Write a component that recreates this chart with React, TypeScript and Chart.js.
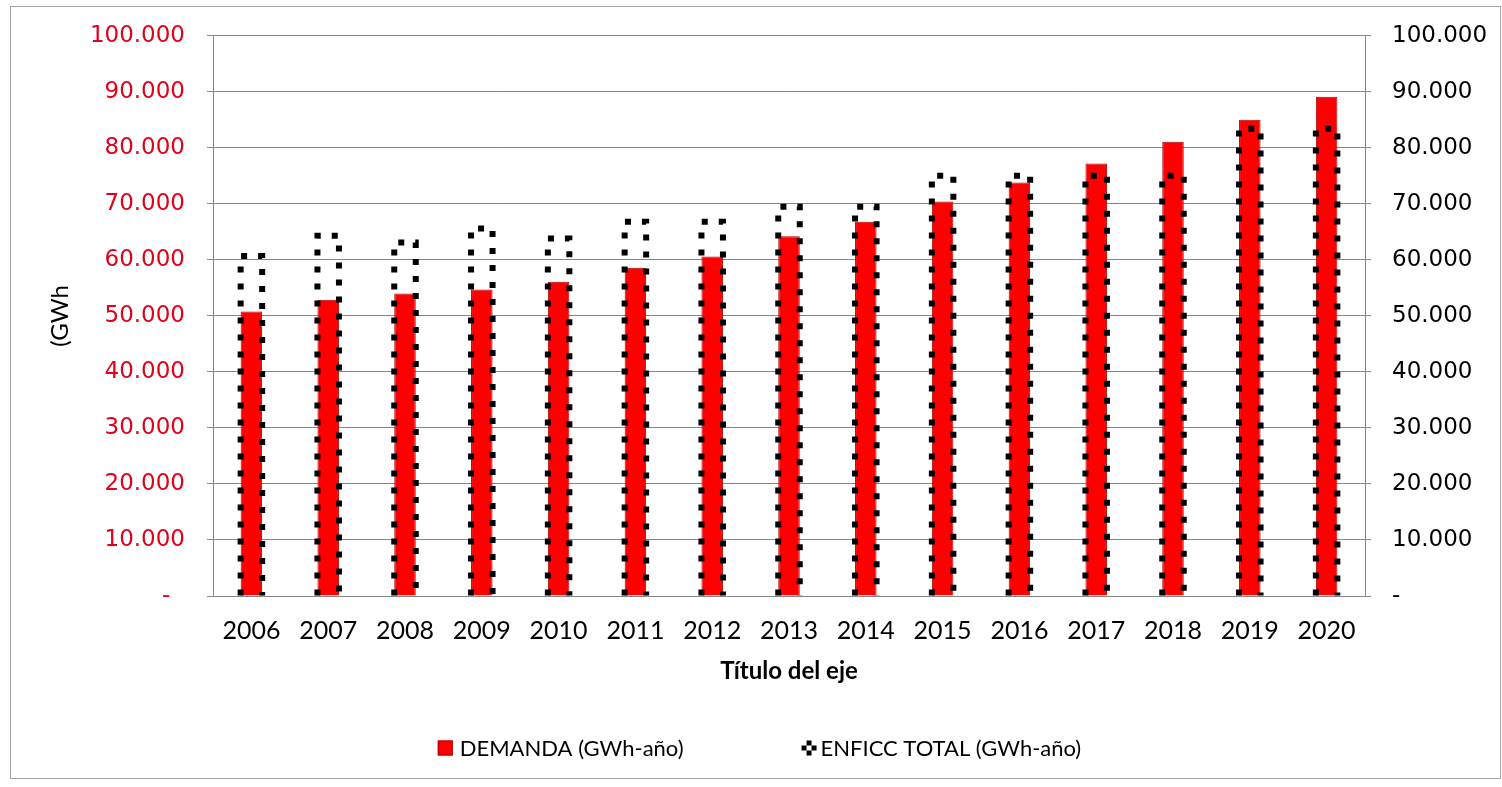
import { useEffect, useRef } from 'react';
import { Chart, registerables } from 'chart.js';

Chart.register(...registerables);

// Years on the category axis
const YEARS = ['2006', '2007', '2008', '2009', '2010', '2011', '2012', '2013', '2014', '2015', '2016', '2017', '2018', '2019', '2020'];

// Annual demand (GWh-año)
const DEMANDA = [50800, 52900, 54000, 54700, 56100, 58600, 60600, 64200, 66800, 70400, 73800, 77200, 81100, 85000, 89100];

// Total firm energy, ENFICC (GWh-año)
const ENFICC = [60700, 64300, 63100, 65600, 63800, 66800, 66800, 69500, 69500, 75000, 75000, 75000, 75000, 83400, 83400];

const SERIES_LABELS = ['DEMANDA (GWh-año)', 'ENFICC TOTAL (GWh-año)'];
const X_TITLE = 'Título del eje';
const Y_TITLE = '(GWh';
const Y_MIN = 0;
const Y_MAX = 100000;
const Y_STEP = 10000;

const RED = '#ff0000';
const TICK_RED = '#e2001a';
const GRID = '#868686';

const thousands = (v: number) => String(Math.round(v)).replace(/\B(?=(\d{3})+(?!\d))/g, '.');

// white page with a thin frame around the whole chart
const frame = {
  id: 'frame',
  beforeDraw(chart: any) {
    const { ctx, width, height } = chart;
    ctx.save();
    ctx.fillStyle = '#ffffff';
    ctx.fillRect(0, 0, width, height);
    ctx.strokeStyle = '#a6a6a6';
    ctx.lineWidth = 1;
    ctx.strokeRect(10.5, 6.5, width - 12, height - 15);
    ctx.restore();
  },
};

// square-dotted outline for the ENFICC bars
const dottedOutline = {
  id: 'dottedOutline',
  afterDatasetsDraw(chart: any) {
    const meta = chart.getDatasetMeta(1);
    const { ctx } = chart;
    ctx.save();
    ctx.strokeStyle = '#000000';
    ctx.lineWidth = 6;
    ctx.lineCap = 'butt';
    ctx.setLineDash([6, 11]);
    meta.data.forEach((bar: any) => {
      const { x, y, base, width } = bar.getProps(['x', 'y', 'base', 'width'], true);
      const l = x - width / 2;
      const r = x + width / 2;
      ctx.beginPath();
      ctx.moveTo(l, base);
      ctx.lineTo(l, y);
      ctx.lineTo(r, y);
      ctx.lineTo(r, base);
      ctx.stroke();
    });
    ctx.restore();
  },
};

// legend row under the axis title
const bottomLegend = {
  id: 'bottomLegend',
  afterDraw(chart: any) {
    const { ctx } = chart;
    const labels = chart.data.datasets.map((d: any) => d.label as string);
    ctx.save();
    ctx.font = '22px Lato';
    ctx.textBaseline = 'middle';
    ctx.textAlign = 'left';
    const box = 15;
    const gap = 7;
    const itemGap = 118;
    const widths = labels.map((t: string) => ctx.measureText(t).width);
    const total = box + gap + widths[0] + itemGap + box + gap + widths[1];
    const cy = 748;
    let x = 761 - total / 2;

    // DEMANDA swatch
    ctx.fillStyle = RED;
    ctx.fillRect(x, cy - box / 2, box, box);
    ctx.strokeStyle = '#b00000';
    ctx.lineWidth = 1;
    ctx.strokeRect(x + 0.5, cy - box / 2 + 0.5, box - 1, box - 1);
    x += box + gap;
    ctx.fillStyle = '#000';
    ctx.fillText(labels[0], x, cy + 1);
    x += widths[0] + itemGap;

    // ENFICC swatch: a plus of black cells
    const c = box / 3;
    const top = cy - box / 2;
    ctx.fillStyle = '#000';
    ctx.fillRect(x + c, top, c, c);
    ctx.fillRect(x, top + c, c, c);
    ctx.fillRect(x + 2 * c, top + c, c, c);
    ctx.fillRect(x + c, top + 2 * c, c, c);
    x += box + gap - 3;
    ctx.fillText(labels[1], x, cy + 1);
    ctx.restore();
  },
};

export default function App() {
  const ref = useRef<HTMLCanvasElement>(null);

  useEffect(() => {
    const canvas = ref.current;
    if (!canvas) return;
    const chart = new Chart(canvas, {
      type: 'bar',
      data: {
        labels: YEARS,
        datasets: [
          {
            label: SERIES_LABELS[0],
            data: DEMANDA,
            backgroundColor: RED,
            borderColor: '#b00000',
            borderWidth: 1,
            grouped: false,
            categoryPercentage: 0.28,
            barPercentage: 1,
            yAxisID: 'y',
          },
          {
            label: SERIES_LABELS[1],
            data: ENFICC,
            backgroundColor: 'rgba(0,0,0,0)',
            borderWidth: 0,
            grouped: false,
            categoryPercentage: 0.28,
            barPercentage: 1,
            yAxisID: 'y',
          },
        ],
      },
      options: {
        responsive: false,
        animation: false,
        devicePixelRatio: 1,
        layout: { padding: { left: 44, right: 10, top: 35, bottom: 91 } },
        plugins: {
          legend: { display: false },
          tooltip: { enabled: false },
        },
        scales: {
          x: {
            grid: { display: false, drawTicks: false },
            border: { display: true, color: GRID },
            ticks: {
              color: '#000',
              font: { family: 'Lato', size: 25 },
              padding: 20,
              maxRotation: 0,
              autoSkip: false,
            },
            title: {
              display: true,
              text: X_TITLE,
              color: '#000',
              font: { family: 'Lato', size: 24, weight: 'bold' },
              padding: { top: 0, bottom: 10 },
            },
            afterFit: (s: any) => {
              s.height = 100;
            },
          },
          y: {
            position: 'left',
            min: Y_MIN,
            max: Y_MAX,
            grid: { color: GRID, drawTicks: true, tickLength: 6, tickColor: GRID },
            border: { display: true, color: GRID },
            ticks: {
              stepSize: Y_STEP,
              color: TICK_RED,
              font: { family: 'DejaVu Sans', size: 23 },
              padding: 22,
              callback: (v: any) => (Number(v) === 0 ? '-  ' : thousands(Number(v))),
            },
            title: {
              display: true,
              text: Y_TITLE,
              color: '#000',
              font: { family: 'Lato', size: 24 },
              padding: { top: 2, bottom: 0 },
            },
            afterFit: (s: any) => {
              s.width = 169;
            },
          },
          y2: {
            position: 'right',
            min: Y_MIN,
            max: Y_MAX,
            grid: { drawOnChartArea: false, drawTicks: true, tickLength: 6, tickColor: GRID, color: GRID },
            border: { display: true, color: GRID },
            ticks: {
              stepSize: Y_STEP,
              color: '#000',
              font: { family: 'DejaVu Sans', size: 23 },
              padding: 21,
              callback: (v: any) => (Number(v) === 0 ? '-' : thousands(Number(v))),
            },
            afterFit: (s: any) => {
              s.width = 127;
            },
          },
        },
      },
      plugins: [frame, dottedOutline, bottomLegend],
    });
    return () => chart.destroy();
  }, []);

  return (
    <div style={{ position: 'absolute', left: 0, top: 0, width: 1502, height: 787 }}>
      <canvas ref={ref} width={1502} height={787} style={{ display: 'block' }} />
    </div>
  );
}
